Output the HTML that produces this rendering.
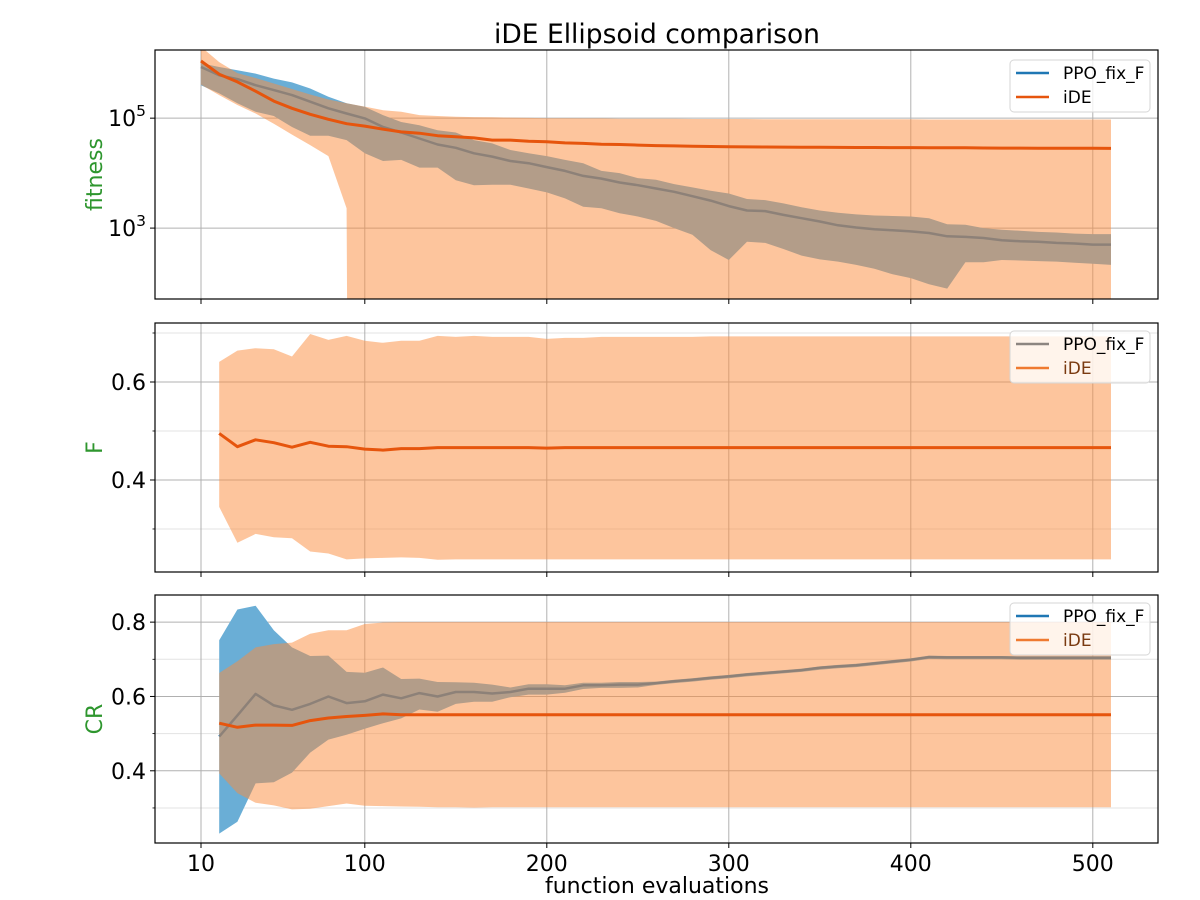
<!DOCTYPE html>
<html><head><meta charset="utf-8">
<style>
html,body{margin:0;padding:0;background:#fff;overflow:hidden;width:1200px;height:900px;}
svg{display:block;font-family:"DejaVu Sans","Liberation Sans",sans-serif;}
</style></head>
<body>
<svg id="chart" width="1200" height="900" viewBox="0 0 1200 900" xmlns="http://www.w3.org/2000/svg"></svg>
<script>
// ---- data ----
const xTop = [10,20,30,40,50,60,70,80,90,100,110,120,130,140,150,160,170,180,190,200,210,220,230,240,250,260,270,280,290,300,310,320,330,340,350,360,370,380,390,400,410,420,430,440,450,460,470,480,490,500,510];
const xLow = xTop.slice(1);
const xTicks = [10,100,200,300,400,500];
// fitness as log10
const ideFitMean = [6.04,5.80,5.66,5.49,5.31,5.18,5.07,4.98,4.90,4.855,4.80,4.75,4.727,4.68,4.66,4.64,4.60,4.60,4.58,4.57,4.55,4.54,4.527,4.52,4.51,4.50,4.495,4.49,4.485,4.48,4.478,4.476,4.474,4.472,4.47,4.468,4.467,4.466,4.465,4.465,4.463,4.462,4.46,4.458,4.456,4.455,4.454,4.453,4.452,4.451,4.45];
const ideFitUpper = [6.30,6.02,5.82,5.73,5.63,5.53,5.43,5.34,5.27,5.21,5.145,5.115,5.055,5.04,5.024,5.02,5.015,5.01,5.005,5.0,5.0,4.995,4.995,4.99,4.99,4.99,4.99,4.985,4.985,4.985,4.985,4.98,4.98,4.98,4.98,4.98,4.98,4.98,4.98,4.98,4.975,4.975,4.975,4.975,4.975,4.975,4.975,4.975,4.975,4.975,4.975];
const ideFitLower = [5.61,5.42,5.24,5.085,4.90,4.70,4.51,4.31,3.36,-60,-60,-60,-60,-60,-60,-60,-60,-60,-60,-60,-60,-60,-60,-60,-60,-60,-60,-60,-60,-60,-60,-60,-60,-60,-60,-60,-60,-60,-60,-60,-60,-60,-60,-60,-60,-60,-60,-60,-60,-60,-60];
const ppoFitMean = [5.93,5.78,5.71,5.60,5.51,5.42,5.30,5.18,5.085,4.995,4.84,4.74,4.63,4.52,4.46,4.36,4.30,4.22,4.18,4.11,4.04,3.95,3.90,3.83,3.78,3.72,3.66,3.58,3.50,3.40,3.32,3.31,3.24,3.18,3.12,3.05,3.01,2.98,2.96,2.94,2.91,2.85,2.84,2.82,2.78,2.76,2.75,2.73,2.72,2.70,2.70];
const ppoFitUpper = [6.0,5.93,5.87,5.81,5.72,5.65,5.54,5.39,5.27,5.205,5.055,4.93,4.87,4.78,4.74,4.60,4.54,4.42,4.36,4.31,4.24,4.18,4.04,4.0,3.91,3.88,3.80,3.74,3.68,3.63,3.53,3.51,3.45,3.38,3.32,3.28,3.25,3.23,3.22,3.21,3.18,3.07,3.06,3.0,2.97,2.95,2.93,2.92,2.90,2.89,2.89];
const ppoFitLower = [5.6,5.45,5.27,5.115,5.04,4.84,4.68,4.68,4.6,4.36,4.22,4.24,4.10,4.10,3.87,3.78,3.79,3.79,3.72,3.65,3.54,3.39,3.36,3.27,3.21,3.13,3.0,2.88,2.60,2.42,2.75,2.73,2.62,2.50,2.43,2.39,2.33,2.26,2.16,2.09,1.98,1.90,2.38,2.38,2.42,2.41,2.40,2.39,2.37,2.35,2.33];
// F
const ideFMean = [0.495,0.468,0.482,0.476,0.467,0.477,0.469,0.468,0.463,0.461,0.464,0.464,0.466,0.466,0.466,0.466,0.466,0.466,0.465,0.466,0.466,0.466,0.466,0.466,0.466,0.466,0.466,0.466,0.466,0.466,0.466,0.466,0.466,0.466,0.466,0.466,0.466,0.466,0.466,0.466,0.466,0.466,0.466,0.466,0.466,0.466,0.466,0.466,0.466,0.466];
const ideFUpper = [0.641,0.664,0.669,0.667,0.652,0.698,0.686,0.694,0.684,0.680,0.684,0.684,0.694,0.692,0.694,0.692,0.692,0.692,0.688,0.690,0.690,0.692,0.692,0.692,0.692,0.692,0.692,0.693,0.693,0.693,0.693,0.693,0.693,0.693,0.693,0.693,0.693,0.693,0.693,0.693,0.693,0.693,0.693,0.693,0.693,0.693,0.693,0.693,0.693,0.693];
const ideFLower = [0.345,0.272,0.290,0.283,0.281,0.254,0.250,0.238,0.240,0.241,0.242,0.241,0.237,0.238,0.238,0.238,0.238,0.238,0.238,0.238,0.238,0.238,0.238,0.238,0.238,0.238,0.238,0.238,0.238,0.238,0.238,0.238,0.238,0.238,0.238,0.238,0.238,0.238,0.238,0.238,0.238,0.238,0.238,0.238,0.238,0.238,0.238,0.238,0.238,0.238];
// CR
const ideCRMean = [0.528,0.517,0.523,0.523,0.522,0.535,0.542,0.546,0.549,0.553,0.551,0.551,0.551,0.551,0.551,0.551,0.551,0.551,0.551,0.551,0.551,0.551,0.551,0.551,0.551,0.551,0.551,0.551,0.551,0.551,0.551,0.551,0.551,0.551,0.551,0.551,0.551,0.551,0.551,0.551,0.551,0.551,0.551,0.551,0.551,0.551,0.551,0.551,0.551,0.551];
const ideCRUpper = [0.663,0.695,0.732,0.741,0.745,0.769,0.778,0.778,0.795,0.799,0.80,0.80,0.80,0.80,0.80,0.80,0.80,0.80,0.80,0.80,0.80,0.80,0.80,0.80,0.80,0.80,0.80,0.80,0.80,0.80,0.80,0.80,0.80,0.80,0.80,0.80,0.80,0.80,0.80,0.80,0.80,0.80,0.80,0.80,0.80,0.80,0.80,0.80,0.80,0.80];
const ideCRLower = [0.393,0.340,0.314,0.307,0.296,0.298,0.305,0.312,0.306,0.305,0.304,0.303,0.302,0.302,0.301,0.302,0.302,0.302,0.302,0.302,0.302,0.302,0.302,0.302,0.302,0.302,0.302,0.302,0.302,0.302,0.302,0.302,0.302,0.302,0.302,0.302,0.302,0.302,0.302,0.302,0.302,0.302,0.302,0.302,0.302,0.302,0.302,0.302,0.302,0.302];
const ppoCRMean = [0.492,0.549,0.607,0.576,0.564,0.580,0.600,0.582,0.587,0.605,0.595,0.609,0.600,0.612,0.612,0.608,0.612,0.621,0.621,0.621,0.630,0.630,0.632,0.632,0.636,0.641,0.645,0.650,0.654,0.659,0.663,0.667,0.671,0.677,0.681,0.684,0.689,0.694,0.699,0.706,0.705,0.705,0.705,0.705,0.704,0.704,0.704,0.704,0.704,0.704];
const ppoCRUpper = [0.751,0.834,0.844,0.778,0.732,0.709,0.710,0.666,0.664,0.678,0.647,0.648,0.639,0.638,0.637,0.632,0.624,0.633,0.633,0.630,0.637,0.637,0.639,0.639,0.640,0.645,0.649,0.654,0.658,0.663,0.667,0.671,0.675,0.681,0.685,0.688,0.693,0.698,0.703,0.710,0.709,0.709,0.709,0.709,0.708,0.708,0.708,0.708,0.708,0.708];
const ppoCRLower = [0.231,0.263,0.366,0.369,0.395,0.449,0.484,0.497,0.513,0.528,0.541,0.565,0.559,0.580,0.586,0.586,0.598,0.605,0.605,0.610,0.620,0.623,0.623,0.624,0.631,0.636,0.640,0.645,0.649,0.654,0.658,0.662,0.666,0.672,0.676,0.679,0.684,0.689,0.694,0.701,0.700,0.700,0.700,0.700,0.699,0.699,0.699,0.699,0.699,0.699];

const NS = 'http://www.w3.org/2000/svg';
const svg = document.getElementById('chart');
function mk(tag, attrs, parent){const e=document.createElementNS(NS,tag);for(const k in attrs)e.setAttribute(k,attrs[k]);(parent||svg).appendChild(e);return e;}

const X0=155, X1=1158;
function xs(v){return 201 + (v-10)*1.82;}

const BLUE_FILL='#6aaed6', BLUE='#1f77b4', OR_FILL='rgba(251,140,60,0.5)', OR='#e6550d', GREEN='#2e962e';

function band(g, xv, lo, hi, fill, y){
  let d='';
  xv.forEach((v,i)=>{d+=(i?'L':'M')+xs(v).toFixed(1)+','+y(hi[i]).toFixed(1);});
  for(let i=xv.length-1;i>=0;i--) d+='L'+xs(xv[i]).toFixed(1)+','+y(lo[i]).toFixed(1);
  return mk('path',{d:d+'Z',fill:fill,stroke:'none'},g);
}
function line(g, xv, yv, color, y, w){
  const d=xv.map((v,i)=>(i?'L':'M')+xs(v).toFixed(1)+','+y(yv[i]).toFixed(1)).join('');
  return mk('path',{d:d,fill:'none',stroke:color,'stroke-width':w||2.5,'stroke-linejoin':'round'},g);
}
function legend(g, top, ppoColor, ideColor, ideTextColor){
  const lg=mk('g',{},g);
  
  
  mk('rect',{x:1010,y:top,width:140,height:52,rx:4,fill:'rgba(255,255,255,0.8)',stroke:'#d6d6d6'},lg);
  const e1=mk('g',{},lg);
  
  
  mk('line',{x1:1016,x2:1049,y1:top+13,y2:top+13,stroke:ppoColor,'stroke-width':2.5},e1);
  const t1=mk('text',{x:1063,y:top+19,'font-size':17,fill:'#000'},e1); t1.textContent='PPO_fix_F';
  const e2=mk('g',{},lg);
  
  
  mk('line',{x1:1016,x2:1049,y1:top+37,y2:top+37,stroke:ideColor,'stroke-width':2.5},e2);
  const t2=mk('text',{x:1063,y:top+43,'font-size':17,fill:ideTextColor},e2); t2.textContent='iDE';
}

const panels=[
  {name:'fitness-panel', top:50, bot:299, label:'fitness', log:true, ymin:1.71, ymax:6.24},
  {name:'f-panel', top:323, bot:572, label:'F', ymin:0.2122, ymax:0.7204},
  {name:'cr-panel', top:595, bot:843, label:'CR', ymin:0.2057, ymax:0.8730}
];

// title
const title=mk('text',{x:657,y:43,'font-size':26.5,'text-anchor':'middle',fill:'#000'});


title.textContent='iDE Ellipsoid comparison';

panels.forEach((p,pi)=>{
  const g=mk('g',{});
  
  
  const y=v=>p.bot-(v-p.ymin)/(p.ymax-p.ymin)*(p.bot-p.top);
  const cid='clip'+pi;
  const cp=mk('clipPath',{id:cid},g); mk('rect',{x:X0,y:p.top,width:X1-X0,height:p.bot-p.top},cp);
  const grid=mk('g',{},g);
  
  
  const yt = p.log ? [3,5] : (pi===1?[0.4,0.6]:[0.4,0.6,0.8]);
  const ym = p.log ? [] : [0.3,0.5,0.7];
  ym.forEach(v=>{mk('line',{x1:X0,x2:X1,y1:y(v),y2:y(v),stroke:'#e3e3e3','stroke-width':1},grid);
    mk('line',{x1:X0-2.5,x2:X0,y1:y(v),y2:y(v),stroke:'#000','stroke-width':0.8},g);});
  yt.forEach(v=>{mk('line',{x1:X0,x2:X1,y1:y(v),y2:y(v),stroke:'#b0b0b0','stroke-width':1},grid);});
  xTicks.forEach(v=>{mk('line',{x1:xs(v),x2:xs(v),y1:p.top,y2:p.bot,stroke:'#b0b0b0','stroke-width':1},grid);
    mk('line',{x1:xs(v),x2:xs(v),y1:p.bot,y2:p.bot+5,stroke:'#000','stroke-width':1},g);});
  yt.forEach(v=>{
    mk('line',{x1:X0-5,x2:X0,y1:y(v),y2:y(v),stroke:'#000','stroke-width':1},g);
    const t=mk('text',{x:X0-9,y:y(v)+8,'font-size':22,'text-anchor':'end',fill:'#000'},g);
    
    
    if(p.log){t.textContent='10';const s=mk('tspan',{dy:-10,'font-size':15.5},t);s.textContent=String(v);}
    else t.textContent=v.toFixed(1);
  });
  const lab=mk('text',{x:0,y:0,'font-size':22,'text-anchor':'middle',fill:GREEN,transform:`translate(102,${(p.top+p.bot)/2}) rotate(-90)`},g);
  
  
  lab.textContent=p.label;

  const plot=mk('g',{'clip-path':`url(#${cid})`},g);
  if(pi===0){
    band(plot,xTop,ppoFitLower,ppoFitUpper,BLUE_FILL,y);
    line(plot,xTop,ppoFitMean,BLUE,y);
    band(plot,xTop,ideFitLower,ideFitUpper,OR_FILL,y);
    line(plot,xTop,ideFitMean,OR,y,3);
    legend(g,60,BLUE,OR,'#000');
  } else if(pi===1){
    legend(g,331,'#8c8580','#ef7a30','#7a3a10');
    band(plot,xLow,ideFLower,ideFUpper,OR_FILL,y);
    line(plot,xLow,ideFMean,OR,y,3);
  } else {
    band(plot,xLow,ppoCRLower,ppoCRUpper,BLUE_FILL,y);
    line(plot,xLow,ppoCRMean,BLUE,y);
    legend(g,603,BLUE,'#ef7a30','#7a3a10');
    band(plot,xLow,ideCRLower,ideCRUpper,OR_FILL,y);
    line(plot,xLow,ideCRMean,OR,y,3);
  }
  mk('rect',{x:X0,y:p.top,width:X1-X0,height:p.bot-p.top,fill:'none',stroke:'#000','stroke-width':1.2},g);
  if(pi===2){
    xTicks.forEach(v=>{const t=mk('text',{x:xs(v),y:p.bot+28,'font-size':22,'text-anchor':'middle',fill:'#000'},g);
      
      
      t.textContent=String(v);});
    const xl=mk('text',{x:657,y:893,'font-size':22,'text-anchor':'middle',fill:'#000'},g);
    
    
    xl.textContent='function evaluations';
  }
});
</script>
</body></html>
